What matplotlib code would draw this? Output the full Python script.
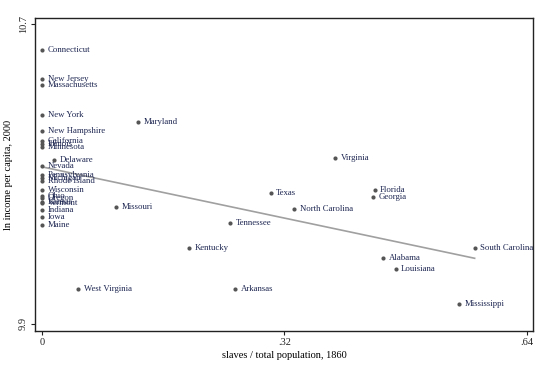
import numpy as np
import matplotlib
matplotlib.use('Agg')
import matplotlib.pyplot as plt

# 州ごとのデータ (slaves share 1860, ln income per capita 2000)
states = ['Connecticut', 'New Jersey', 'Massachusetts', 'New York', 'New Hampshire',
          'California', 'Illinois', 'Minnesota', 'Nevada', 'Pennsylvania',
          'Michigan', 'Rhode Island', 'Wisconsin', 'Ohio', 'Oregon',
          'Kansas', 'Vermont', 'Indiana', 'Iowa', 'Maine',
          'Delaware', 'Missouri', 'Maryland', 'Virginia', 'Texas',
          'North Carolina', 'Tennessee', 'Kentucky', 'Florida', 'Georgia',
          'South Carolina', 'Alabama', 'Louisiana', 'Mississippi', 'West Virginia',
          'Arkansas']
slave_share = [0, 0, 0, 0, 0,
               0, 0, 0, 0, 0,
               0, 0, 0, 0, 0,
               0, 0, 0, 0, 0,
               0.016, 0.0977, 0.1267, 0.3866, 0.3018,
               0.3329, 0.2481, 0.194, 0.439, 0.4364,
               0.571, 0.4504, 0.4667, 0.5503, 0.0475,
               0.2547]
ln_income = [10.631, 10.554, 10.538, 10.458, 10.415,
             10.388, 10.380, 10.372, 10.321, 10.297,
             10.289, 10.281, 10.257, 10.241, 10.236,
             10.225, 10.223, 10.204, 10.185, 10.164,
             10.337, 10.212, 10.439, 10.343, 10.250,
             10.205, 10.169, 10.102, 10.257, 10.239,
             10.102, 10.075, 10.047, 9.953, 9.993,
             9.993]
x_ticks = [0, 0.32, 0.64]
x_labels = ['0', '.32', '.64']
y_ticks = [9.9, 10.7]
y_labels = ['9.9', '10.7']

plt.rcParams['font.family'] = ['Liberation Serif', 'DejaVu Serif']

fig = plt.figure(figsize=(5.51, 3.65), dpi=100)
ax = fig.add_axes([0.0635, 0.0932, 0.9038, 0.8575])

x = np.array(slave_share)
y = np.array(ln_income)

# 回帰直線
b, a = np.polyfit(x, y, 1)
xs = np.array([x.min(), x.max()])
ax.plot(xs, a + b * xs, color='#a0a0a0', lw=1.2, zorder=1)

ax.scatter(x, y, s=9, color='#555555', zorder=2, linewidths=0)
for name, xi, yi in zip(states, x, y):
    ax.annotate(name, (xi, yi), xytext=(4, 0), textcoords='offset points',
                va='center', ha='left', fontsize=6.3, color='#1c2550')

ax.set_xlim(-0.0092, 0.648)
ax.set_ylim(9.880, 10.717)
ax.set_xticks(x_ticks)
ax.set_xticklabels(x_labels)
ax.set_yticks(y_ticks)
ax.set_yticklabels(y_labels, rotation=90, va='center')
ax.tick_params(length=3, width=0.8, labelsize=7.5, pad=2, colors='#222222')
for s in ax.spines.values():
    s.set_color('#222222')
    s.set_linewidth(1.0)

ax.set_xlabel('slaves / total population, 1860', fontsize=7.5, labelpad=3)
ax.set_ylabel('ln income per capita, 2000', fontsize=7.5, labelpad=4)

fig.savefig('out.png', dpi=100)
